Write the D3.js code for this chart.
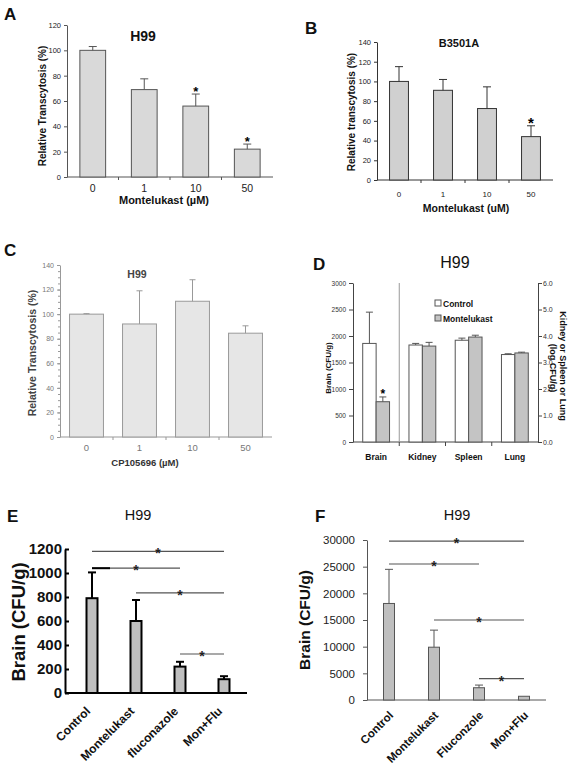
<!DOCTYPE html>
<html><head><meta charset="utf-8">
<script src="https://cdn.jsdelivr.net/npm/d3@7"></script>
<style>body{margin:0;background:#fff} svg{display:block} text{font-family:"Liberation Sans",Arial,sans-serif}</style>
</head><body>
<svg id="c" width="577" height="771"></svg>
<script>
// ---------- data ----------
const doseLabels = ["0", "1", "10", "50"];
const aMeans = [100, 69, 56, 22];
const aErrors = [3, 8.5, 9.5, 4];
const aStars = [false, false, true, true];
const bMeans = [100, 91, 72.5, 44];
const bErrors = [15, 11, 22, 11];
const bStars = [false, false, false, true];
const cMeans = [100, 92, 110.5, 84.5];
const cErrors = [0.4, 27, 17.5, 6];
const cStars = [false, false, false, false];
const organs = ["Brain", "Kidney", "Spleen", "Lung"];
const dSeries = ["Control", "Montelukast"];
const dBrainMeans = [1860, 760];
const dBrainErrors = [590, 90];
const dBrainStars = [false, true];
const dControlLog = [3.66, 3.84, 3.30];   // Kidney, Spleen, Lung
const dControlLogErr = [0.06, 0.08, 0.03];
const dMontLog = [3.62, 3.96, 3.36];
const dMontLogErr = [0.14, 0.07, 0.03];
const eTreatments = ["Control", "Montelukast", "fluconazole", "Mon+Flu"];
const eMeans = [790, 600, 220, 115];
const eErrors = [215, 175, 40, 25];
const eSig = [[0, 3, 1180], [0, 2, 1040], [1, 3, 835], [2, 3, 325]];
const fTreatments = ["Control", "Montelukast", "Fluconzole", "Mon+Flu"];
const fMeans = [18100, 9900, 2300, 700];
const fErrors = [6400, 3200, 500, 0];
const fSig = [[0, 3, 29800], [0, 2, 25500], [1, 3, 15000], [2, 3, 4000]];
const ticksPct120 = [0, 20, 40, 60, 80, 100, 120];
const ticksPct140 = [0, 20, 40, 60, 80, 100, 120, 140];
const ticksBrainD = [0, 500, 1000, 1500, 2000, 2500, 3000];
const ticksLogD = [0, 1, 2, 3, 4, 5, 6];
const ticksE = [0, 200, 400, 600, 800, 1000, 1200];
const ticksF = [0, 5000, 10000, 15000, 20000, 25000, 30000];

// ---------- helpers ----------
const svg = d3.select("#c");
const fmtInt = d3.format("d");
function txt(g, s, x, y, o = {}) {
  const t = g.append("text").attr("x", x).attr("y", y).text(s)
    .attr("font-size", o.size || 10).attr("font-weight", o.weight || "normal")
    .attr("fill", o.fill || "#111").attr("text-anchor", o.anchor || "start");
  if (o.rot !== undefined) t.attr("x", 0).attr("y", 0).attr("dy", "0.35em").attr("transform", `translate(${x},${y}) rotate(${o.rot})`);
  return t;
}
function styleAxis(sel, color, fs, fill, weight) {
  sel.select(".domain").attr("stroke", color);
  sel.selectAll(".tick line").attr("stroke", color);
  sel.selectAll(".tick text").attr("font-size", fs).attr("fill", fill).attr("font-weight", weight || "normal")
    .attr("font-family", "Liberation Sans, Arial, sans-serif");
}

function simplePanel(c) {
  const g = svg.append("g");
  const x = d3.scaleBand().domain(doseLabels).range(c.xr).paddingInner(c.pi).paddingOuter(c.pi / 2);
  const y = d3.scaleLinear().domain([0, c.ymax]).range(c.yr);
  const ya = g.append("g").attr("transform", `translate(${c.xr[0]},0)`)
    .call(d3.axisLeft(y).tickValues(c.yticks).tickFormat(fmtInt).tickSize(3).tickPadding(3).tickSizeOuter(0));
  styleAxis(ya, c.axis, c.yfs, c.tickFill);
  if (c.minor) {
    g.append("g").attr("transform", `translate(${c.xr[0]},0)`)
      .call(d3.axisLeft(y).tickValues(d3.range(0, c.ymax + 1, 5)).tickSize(2).tickFormat(""))
      .call(s => { s.select(".domain").remove(); s.selectAll("line").attr("stroke", c.axis); });
  }
  g.append("line").attr("x1", c.xr[0]).attr("x2", c.xr[1]).attr("y1", c.yr[0]).attr("y2", c.yr[0]).attr("stroke", c.axis);
  doseLabels.slice(1).forEach(d => {
    const bx = x(d) - x.step() * c.pi / 2;
    g.append("line").attr("x1", bx).attr("x2", bx).attr("y1", c.yr[0]).attr("y2", c.yr[0] + 3).attr("stroke", c.axis);
  });
  g.selectAll("rect.bar").data(c.means).join("rect")
    .attr("x", (d, i) => x(doseLabels[i])).attr("width", x.bandwidth())
    .attr("y", d => y(d)).attr("height", d => y(0) - y(d))
    .attr("fill", c.fill).attr("stroke", c.stroke).attr("stroke-width", 1);
  c.means.forEach((m, i) => {
    const cx = x(doseLabels[i]) + x.bandwidth() / 2, top = y(m + c.errs[i]);
    g.append("line").attr("x1", cx).attr("x2", cx).attr("y1", y(m)).attr("y2", top).attr("stroke", c.stroke);
    g.append("line").attr("x1", cx - c.cap).attr("x2", cx + c.cap).attr("y1", top).attr("y2", top).attr("stroke", c.stroke);
    if (c.stars[i]) txt(g, "*", cx, top + 2, { size: c.starSize, weight: "bold", anchor: "middle", fill: "#000" });
    txt(g, doseLabels[i], cx, c.xlabY, { size: c.xfs, anchor: "middle", fill: c.tickFill });
  });
  return g;
}

// ---------- Panel A ----------
const gA = simplePanel({ xr: [67, 273], yr: [177, 25], ymax: 120, yticks: ticksPct120, pi: 0.5,
  means: aMeans, errs: aErrors, stars: aStars, fill: "#d9d9d9", stroke: "#555", axis: "#555",
  tickFill: "#222", yfs: 7.5, xfs: 10.5, xlabY: 192, cap: 4, starSize: 13 });
txt(gA, "A", 4, 20, { size: 17, weight: "bold" });
txt(gA, "H99", 143, 41, { size: 14, weight: "bold", anchor: "middle" });
txt(gA, "Montelukast (\u00b5M)", 164, 204, { size: 11, weight: "bold", anchor: "middle" });
txt(gA, "Relative  Transcytosis  (%)", 42, 106, { size: 10, weight: "bold", anchor: "middle", rot: -90 });

// ---------- Panel B ----------
const gB = simplePanel({ xr: [377, 553], yr: [180, 42], ymax: 140, yticks: ticksPct140, pi: 0.57,
  means: bMeans, errs: bErrors, stars: bStars, fill: "#d0d0d0", stroke: "#333", axis: "#333",
  tickFill: "#222", yfs: 7.5, xfs: 8, xlabY: 197, cap: 4, starSize: 15 });
txt(gB, "B", 305, 34, { size: 17, weight: "bold" });
txt(gB, "B3501A", 459, 47, { size: 11, weight: "bold", anchor: "middle" });
txt(gB, "Montelukast (uM)", 466, 212, { size: 10.5, weight: "bold", anchor: "middle" });
txt(gB, "Relative transcytosis (%)", 351, 112, { size: 10, weight: "bold", anchor: "middle", rot: -90 });

// ---------- Panel C ----------
const gC = simplePanel({ xr: [60, 272], yr: [437, 265], ymax: 140, yticks: ticksPct140, pi: 0.36, minor: true,
  means: cMeans, errs: cErrors, stars: cStars, fill: "#e6e6e6", stroke: "#999", axis: "#999",
  tickFill: "#777", yfs: 7, xfs: 9.5, xlabY: 451, cap: 3, starSize: 13 });
txt(gC, "C", 4, 256, { size: 17, weight: "bold" });
txt(gC, "H99", 137, 278, { size: 10.5, weight: "bold", anchor: "middle", fill: "#444" });
txt(gC, "CP105696 (\u00b5M)", 145, 466, { size: 9.5, weight: "bold", anchor: "middle", fill: "#333" });
txt(gC, "Relative Transcytosis (%)", 32, 353, { size: 10.5, weight: "bold", anchor: "middle", rot: -90, fill: "#444" });

// ---------- Panel D ----------
(function () {
  const g = svg.append("g");
  const x0 = d3.scaleBand().domain(organs).range([353, 538]).paddingInner(0.42).paddingOuter(0.21);
  const x1 = d3.scaleBand().domain(dSeries).range([0, x0.bandwidth()]);
  const yL = d3.scaleLinear().domain([0, 3000]).range([442, 283]);
  const yR = d3.scaleLinear().domain([0, 6]).range([442, 283]);
  const axL = g.append("g").attr("transform", "translate(353,0)")
    .call(d3.axisLeft(yL).tickValues(ticksBrainD).tickFormat(fmtInt).tickSize(4).tickPadding(3).tickSizeOuter(0));
  styleAxis(axL, "#444", 6.5, "#333");
  const axR = g.append("g").attr("transform", "translate(538,0)")
    .call(d3.axisRight(yR).tickValues(ticksLogD).tickFormat(d3.format(".1f")).tickSize(4).tickPadding(1).tickSizeOuter(0));
  styleAxis(axR, "#444", 7, "#333");
  g.append("line").attr("x1", 353).attr("x2", 538).attr("y1", 442).attr("y2", 442).attr("stroke", "#444");
  organs.slice(1).forEach(o => {
    const bx = x0(o) - x0.step() * 0.21;
    g.append("line").attr("x1", bx).attr("x2", bx).attr("y1", 442).attr("y2", 446).attr("stroke", "#444");
  });
  const sx = x0("Kidney") - x0.step() * 0.21;
  g.append("line").attr("x1", sx).attr("x2", sx).attr("y1", 283).attr("y2", 442).attr("stroke", "#999");
  const fills = { Control: "#ffffff", Montelukast: "#c4c4c4" };
  const bars = [];
  dSeries.forEach((s, j) => {
    bars.push({ organ: "Brain", s, v: dBrainMeans[j], e: dBrainErrors[j], star: dBrainStars[j], y: yL });
  });
  organs.slice(1).forEach((o, i) => {
    bars.push({ organ: o, s: "Control", v: dControlLog[i], e: dControlLogErr[i], star: false, y: yR });
    bars.push({ organ: o, s: "Montelukast", v: dMontLog[i], e: dMontLogErr[i], star: false, y: yR });
  });
  bars.forEach(b => {
    const bx = x0(b.organ) + x1(b.s), w = x1.bandwidth(), cx = bx + w / 2;
    g.append("rect").attr("x", bx).attr("width", w).attr("y", b.y(b.v)).attr("height", b.y(0) - b.y(b.v))
      .attr("fill", fills[b.s]).attr("stroke", "#555");
    const top = b.y(b.v + b.e);
    g.append("line").attr("x1", cx).attr("x2", cx).attr("y1", b.y(b.v)).attr("y2", top).attr("stroke", "#555");
    g.append("line").attr("x1", cx - 3.5).attr("x2", cx + 3.5).attr("y1", top).attr("y2", top).attr("stroke", "#555");
    if (b.star) txt(g, "*", cx, top + 1, { size: 12, weight: "bold", anchor: "middle", fill: "#000" });
  });
  organs.forEach(o => txt(g, o, x0(o) + x0.bandwidth() / 2, 460, { size: 8.5, weight: "bold", anchor: "middle" }));
  dSeries.forEach((s, j) => {
    g.append("rect").attr("x", 435).attr("y", 300 + j * 15).attr("width", 6).attr("height", 6)
      .attr("fill", fills[s]).attr("stroke", "#555");
    txt(g, s, 443, 306.5 + j * 15, { size: 8.5, weight: "bold" });
  });
  txt(g, "D", 313, 270, { size: 17, weight: "bold" });
  txt(g, "H99", 455, 268, { size: 16, anchor: "middle" });
  txt(g, "Brain (CFU/g)", 328, 368, { size: 8, weight: "bold", anchor: "middle", rot: -90 });
  txt(g, "Kidney or Spleen or Lung", 563, 366, { size: 9, weight: "bold", anchor: "middle", rot: 90 });
  txt(g, "(log CFU/g)", 553, 368, { size: 9, weight: "bold", anchor: "middle", rot: 90 });
})();

// ---------- Panels E & F ----------
function brainPanel(c) {
  const g = svg.append("g");
  const x = d3.scalePoint().domain(c.cats).range(c.xc);
  const y = d3.scaleLinear().domain([0, c.ymax]).range(c.yr);
  const ax = g.append("g").attr("transform", `translate(${c.x0},0)`)
    .call(d3.axisLeft(y).tickValues(c.yticks).tickFormat(fmtInt).tickSize(c.tick).tickPadding(c.pad).tickSizeOuter(0));
  styleAxis(ax, c.axis, c.yfs, c.tickFill, c.yWeight);
  ax.selectAll(".domain, .tick line").attr("stroke-width", c.aw);
  g.append("line").attr("x1", c.x0).attr("x2", c.x1).attr("y1", c.yr[0]).attr("y2", c.yr[0])
    .attr("stroke", c.axis).attr("stroke-width", c.aw);
  c.means.forEach((m, i) => {
    const cx = x(c.cats[i]);
    g.append("rect").attr("x", cx - c.bw / 2).attr("width", c.bw).attr("y", y(m)).attr("height", y(0) - y(m))
      .attr("fill", "#bfbfbf").attr("stroke", c.barStroke).attr("stroke-width", c.bsw);
    if (c.errs[i] > 0) {
      const top = y(m + c.errs[i]);
      g.append("line").attr("x1", cx).attr("x2", cx).attr("y1", y(m)).attr("y2", top).attr("stroke", c.barStroke).attr("stroke-width", c.bsw);
      g.append("line").attr("x1", cx - 4).attr("x2", cx + 4).attr("y1", top).attr("y2", top).attr("stroke", c.barStroke).attr("stroke-width", c.bsw);
    }
    txt(g, c.cats[i], 0, 0, { size: c.xfs, weight: "bold", anchor: "end" })
      .attr("transform", `translate(${cx + c.lx},${c.ly}) rotate(-45)`);
  });
  c.sig.forEach(([a, b, v]) => {
    const xa = x(c.cats[a]), xb = x(c.cats[b]);
    g.append("line").attr("x1", xa).attr("x2", xb).attr("y1", y(v)).attr("y2", y(v)).attr("stroke", "#555").attr("stroke-width", 1.2);
    txt(g, "*", (xa + xb) / 2, y(v) + 7, { size: 14, weight: "bold", anchor: "middle", fill: "#222" });
  });
  return { g, x, y };
}

const E = brainPanel({ cats: eTreatments, xc: [92, 224], x0: 65, x1: 247, yr: [693, 549], ymax: 1200, yticks: ticksE,
  means: eMeans, errs: eErrors, sig: eSig, axis: "#000", aw: 2, tick: -4, pad: 3, yfs: 15, yWeight: "bold", tickFill: "#111",
  bw: 11, barStroke: "#000", bsw: 2, xfs: 12, lx: -1, ly: 712 });
E.g.append("line").attr("x1", E.x("Control")).attr("x2", E.x("Control") + 18).attr("y1", E.y(eSig[1][2])).attr("y2", E.y(eSig[1][2]))
  .attr("stroke", "#000").attr("stroke-width", 2);
txt(E.g, "E", 7, 522, { size: 17, weight: "bold" });
txt(E.g, "H99", 138, 520, { size: 14.5, anchor: "middle" });
txt(E.g, "Brain (CFU/g)", 19, 622, { size: 18.5, weight: "bold", anchor: "middle", rot: -90 });

const F = brainPanel({ cats: fTreatments, xc: [389, 524], x0: 367, x1: 546, yr: [700, 540], ymax: 30000, yticks: ticksF,
  means: fMeans, errs: fErrors, sig: fSig, axis: "#555", aw: 1, tick: 4, pad: 8, yfs: 11.5, yWeight: "normal", tickFill: "#222",
  bw: 11, barStroke: "#555", bsw: 1, xfs: 11.5, lx: 5, ly: 716 });
txt(F.g, "F", 315, 522, { size: 17, weight: "bold" });
txt(F.g, "H99", 457, 520, { size: 14.5, anchor: "middle" });
txt(F.g, "Brain (CFU/g)", 305, 620, { size: 15.5, weight: "bold", anchor: "middle", rot: -90 });
</script>
</body></html>
